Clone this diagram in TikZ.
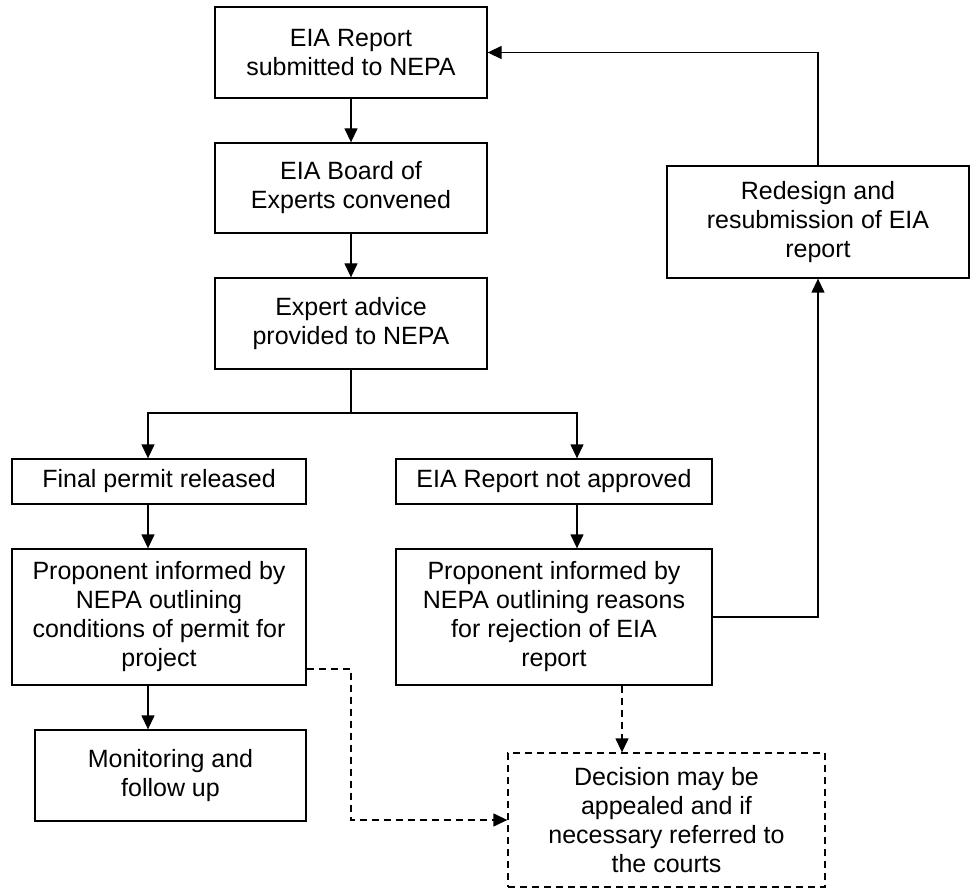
\documentclass[tikz,border=0pt]{standalone}
\usepackage{fontspec}
\setmainfont{Liberation Sans}
\usetikzlibrary{arrows.meta}

\begin{document}
\begin{tikzpicture}[x=0.5pt, y=-0.5pt,
  every node/.style={font=\fontsize{12.5}{14.5}\selectfont, align=center},
  stage/.style={draw, line width=0.65pt, rectangle, inner sep=2pt},
  appeal/.style={stage, dash pattern=on 3.5pt off 2.5pt},
  flow/.style={line width=0.65pt, -{Triangle[length=7pt,width=6.5pt]}},
  maybe/.style={flow, dash pattern=on 3.5pt off 2.5pt}]
%%% EIA review process %%%
\useasboundingbox (0,0) rectangle (971,888);

      %% main column
      \node[stage, minimum width=136pt, minimum height=45.5pt] (submit) at (351,52.5) {EIA Report\\submitted to NEPA};
      \node[stage, minimum width=136pt, minimum height=45pt] (board) at (351,188) {EIA Board of\\Experts convened};
      \node[stage, minimum width=136pt, minimum height=45.5pt] (advice) at (351,323.5) {Expert advice\\provided to NEPA};

      %% approved branch
      \node[stage, minimum width=147pt, minimum height=22.5pt] (permit) at (159,481.5) {Final permit released};
      \node[stage, minimum width=147pt, minimum height=68pt] (propL) at (159,617) {Proponent informed by\\NEPA outlining\\conditions of permit for\\project};
      \node[stage, minimum width=135.5pt, minimum height=45.5pt] (monitor) at (170.5,775.5) {Monitoring and\\follow up};

      %% rejected branch
      \node[stage, minimum width=158pt, minimum height=22.5pt] (notappr) at (554,481.5) {EIA Report not approved};
      \node[stage, minimum width=158pt, minimum height=68pt] (propR) at (554,617) {Proponent informed by\\NEPA outlining reasons\\for rejection of EIA\\report};
      \node[stage, minimum width=151pt, minimum height=56pt] (redesign) at (818,222) {Redesign and\\resubmission of EIA\\report};
      \node[appeal, minimum width=158.5pt, minimum height=67pt] (decision) at (666.5,820) {Decision may be\\appealed and if\\necessary referred to\\the courts};

      %% helper points
      \coordinate (split) at (351,413);
      \coordinate (lcol) at (148,0);
      \coordinate (rcol) at (577,0);
      \coordinate (dcol) at (622,0);
      \coordinate (bend) at (351,669);

      %% connectors
      \draw[flow] (submit) -- (board);
      \draw[flow] (board) -- (advice);
      \draw[line width=0.65pt] (advice) -- (split);
      \draw[flow] (split) -| (permit.north -| lcol);
      \draw[flow] (split) -| (notappr.north -| rcol);
      \draw[flow] (permit.south -| lcol) -- (propL.north -| lcol);
      \draw[flow] (propL.south -| lcol) -- (monitor.north -| lcol);
      \draw[flow] (notappr.south -| rcol) -- (propR.north -| rcol);
      \draw[flow] (propR.east) -| (redesign.south);
      \draw[flow] (redesign.north) |- (submit.east);
      \draw[maybe] (propR.south -| dcol) -- (decision.north -| dcol);
      \draw[maybe] (propL.east |- bend) -- (bend) |- (decision.west);

\end{tikzpicture}
\end{document}
